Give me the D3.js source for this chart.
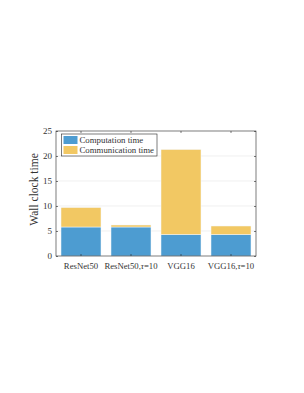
<!DOCTYPE html>
<html><head><meta charset="utf-8">
<script src="https://cdn.jsdelivr.net/npm/d3@7"></script>
<style>body{margin:0;background:#fff}svg{display:block}</style>
</head><body>
<script>
const categories = ["ResNet50", "ResNet50,τ=10", "VGG16", "VGG16,τ=10"];
const computation = [5.8, 5.8, 4.3, 4.3];
const communication = [3.9, 0.4, 17.0, 1.7];
const seriesNames = ["Computation time", "Communication time"];
const yTicks = [0, 5, 10, 15, 20, 25];

const W = 304, H = 393;
const m = {l: 56, r: 48, t: 131, b: 137};
const svg = d3.select("body").append("svg").attr("width", W).attr("height", H);
const x = d3.scaleBand().domain(categories).range([m.l, W - m.r]).paddingInner(0.2).paddingOuter(0.1);
const y = d3.scaleLinear().domain([0, 25]).range([H - m.b, m.t]);
const colors = ["#4d9cd1", "#f2c863"];
const font = "'Liberation Serif', 'Times New Roman', serif";
const ink = "#333";

// grid
svg.append("g").selectAll("line").data(yTicks.filter(d => d > 0 && d < 25)).join("line")
  .attr("x1", m.l).attr("x2", W - m.r).attr("y1", d => y(d)).attr("y2", d => y(d))
  .attr("stroke", "#e6e6e6").attr("stroke-width", 0.6);

const stackData = categories.map((c, i) => ({cat: c, comp: computation[i], comm: communication[i]}));
const stack = d3.stack().keys(["comp", "comm"])(stackData);
svg.append("g").selectAll("g").data(stack).join("g").attr("fill", (d, i) => colors[i])
  .selectAll("rect").data(d => d).join("rect")
  .attr("x", d => x(d.data.cat)).attr("width", x.bandwidth())
  .attr("y", d => y(d[1])).attr("height", d => y(d[0]) - y(d[1]))
  .attr("stroke", "#f4f8fb").attr("stroke-width", 0.5);

// box
svg.append("rect").attr("x", m.l).attr("y", m.t).attr("width", W - m.r - m.l).attr("height", H - m.b - m.t)
  .attr("fill", "none").attr("stroke", "#262626").attr("stroke-width", 0.6);

// axes
const yAxisL = d3.axisLeft(y).tickValues(yTicks).tickSizeInner(-2).tickSizeOuter(0).tickPadding(4);
const gy = svg.append("g").attr("transform", `translate(${m.l},0)`).call(yAxisL);
const yAxisR = d3.axisRight(y).tickValues(yTicks).tickSizeInner(-2).tickSizeOuter(0).tickFormat("");
const gyr = svg.append("g").attr("transform", `translate(${W - m.r},0)`).call(yAxisR);
const xAxisB = d3.axisBottom(x).tickSizeInner(-2).tickSizeOuter(0).tickPadding(6).tickFormat("");
const gx = svg.append("g").attr("transform", `translate(0,${H - m.b})`).call(xAxisB);
const xAxisT = d3.axisTop(x).tickSizeInner(-2).tickSizeOuter(0).tickFormat("");
const gxt = svg.append("g").attr("transform", `translate(0,${m.t})`).call(xAxisT);
[gy, gyr, gx, gxt].forEach(g => {
  g.select(".domain").remove();
  g.selectAll("line").attr("stroke", "#262626").attr("stroke-width", 0.6);
});
gy.selectAll("text").attr("font-family", font).attr("font-size", 9).attr("fill", ink);

// x labels with italic tau
const xl = svg.append("g").selectAll("text").data(categories).join("text")
  .attr("x", d => x(d) + x.bandwidth() / 2).attr("y", H - m.b + 13)
  .attr("text-anchor", "middle").attr("font-family", font).attr("font-size", 8.7).attr("fill", ink);
xl.each(function(d) {
  const t = d3.select(this);
  const parts = d.split("τ");
  t.append("tspan").text(parts[0]);
  if (parts.length > 1) {
    t.append("tspan").attr("font-style", "italic").text("τ");
    t.append("tspan").text(parts[1]);
  }
});

// y label
svg.append("text").attr("transform", `translate(38,${(m.t + H - m.b) / 2 - 4}) rotate(-90)`)
  .attr("text-anchor", "middle").attr("font-family", font).attr("font-size", 11.5).attr("fill", ink)
  .text("Wall clock time");

// legend
const lg = svg.append("g").attr("transform", "translate(61.5,134)");
lg.append("rect").attr("width", 95.5).attr("height", 22).attr("fill", "#fff")
  .attr("stroke", "#262626").attr("stroke-width", 0.6);
seriesNames.forEach((s, i) => {
  lg.append("rect").attr("x", 2).attr("y", 2 + i * 10).attr("width", 14).attr("height", 8).attr("fill", colors[i]);
  lg.append("text").attr("x", 18).attr("y", 9.2 + i * 10).attr("font-family", font).attr("font-size", 8.8)
    .attr("fill", ink).text(s);
});
</script>
</body></html>
